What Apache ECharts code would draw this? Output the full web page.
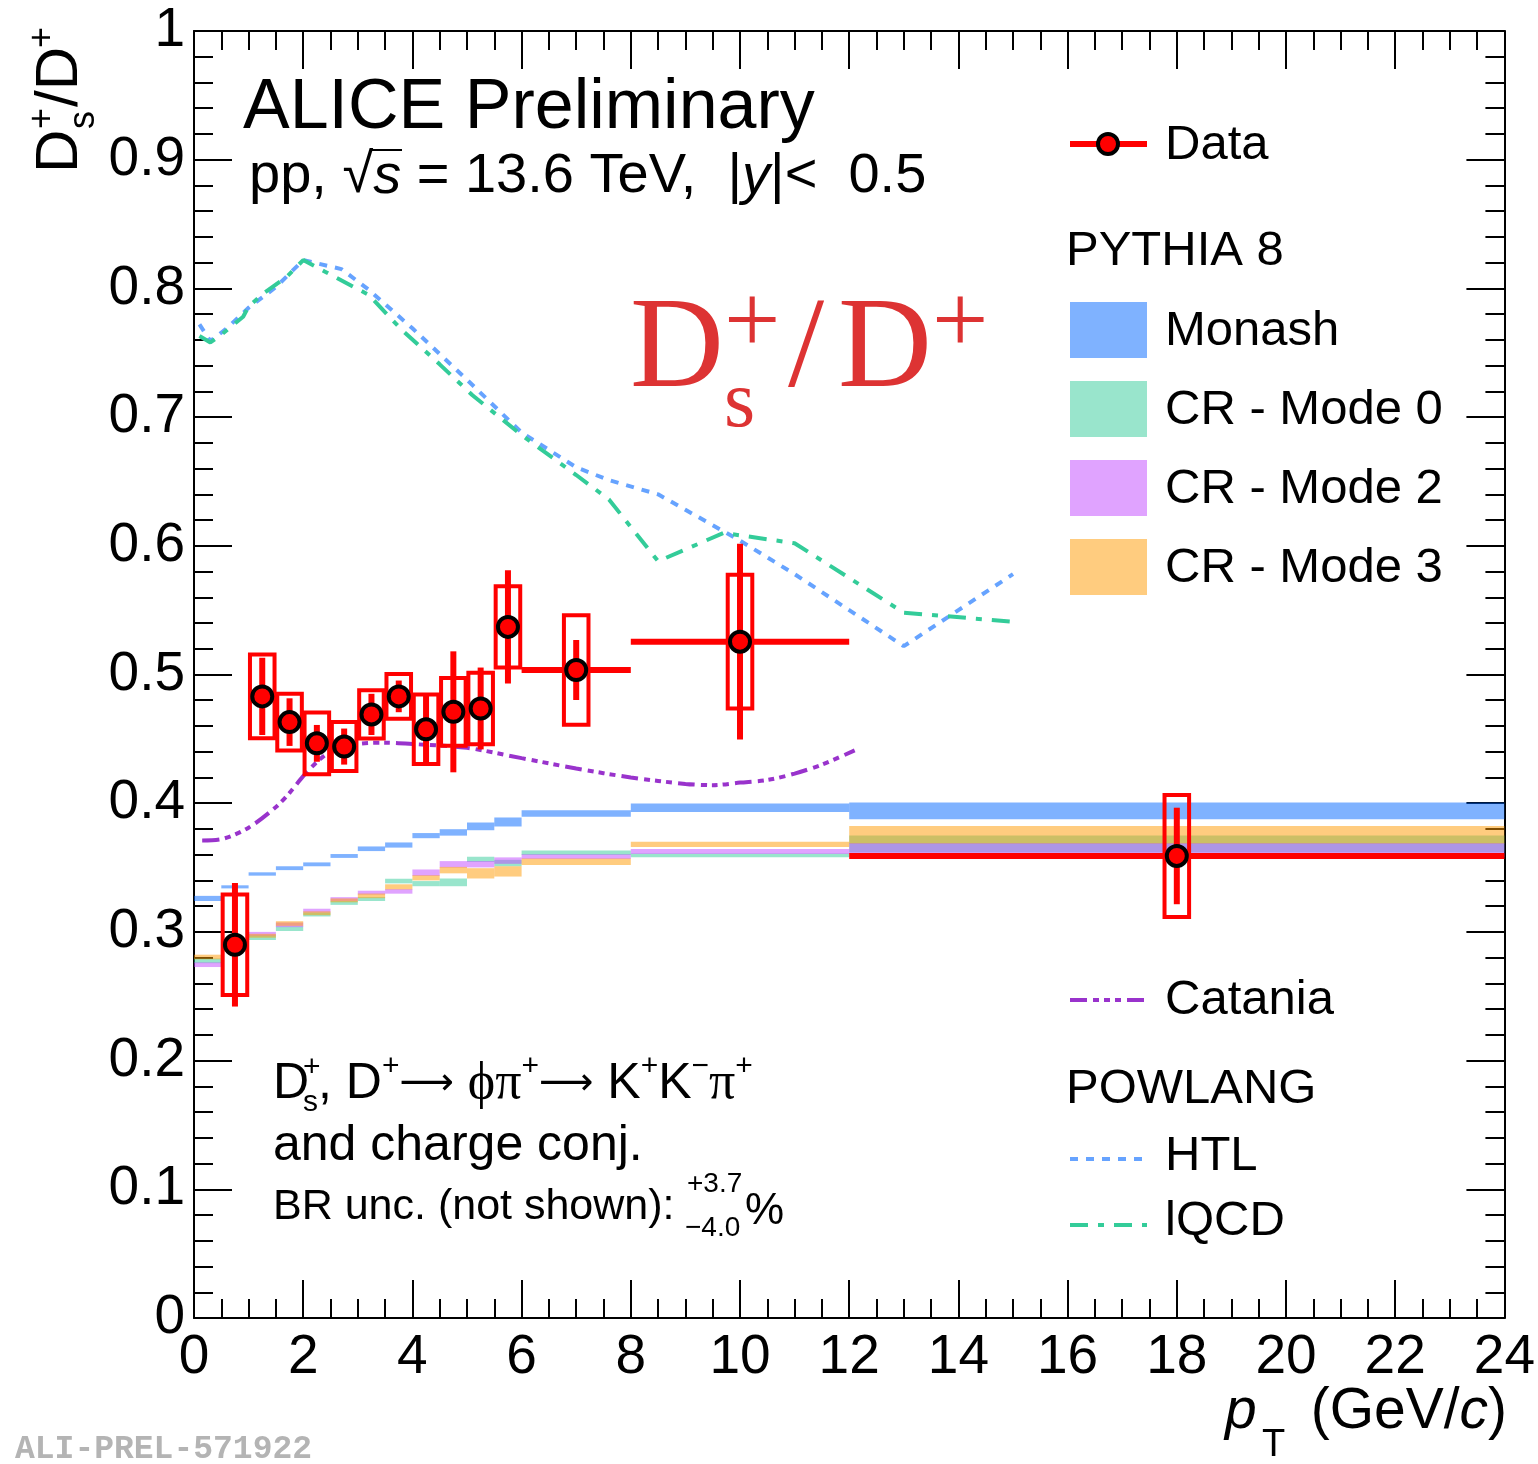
<!DOCTYPE html>
<html>
<head>
<meta charset="utf-8">
<script src="https://cdn.jsdelivr.net/npm/echarts@6/dist/echarts.min.js"></script>
<style>
  html, body { margin: 0; padding: 0; background: #fff; }
  #chart { width: 1538px; height: 1464px; }
</style>
</head>
<body>
<div id="chart"></div>
<script>
// ---- data ----
// measured points (pT centre, half bin width, value, stat and syst errors)
const dataPt     = [0.75, 1.25, 1.75, 2.25, 2.75, 3.25, 3.75, 4.25, 4.75, 5.25, 5.75, 7, 10, 18];
const dataPtHalf = [0.25, 0.25, 0.25, 0.25, 0.25, 0.25, 0.25, 0.25, 0.25, 0.25, 0.25, 1, 2, 6];
const dataVal    = [0.290, 0.483, 0.463, 0.4465, 0.444, 0.469, 0.483, 0.4574, 0.471, 0.4736, 0.537, 0.5035, 0.5255, 0.359];
const dataStat   = [0.048, 0.030, 0.0185, 0.0143, 0.014, 0.016, 0.0123, 0.028, 0.047, 0.0318, 0.044, 0.0233, 0.076, 0.0375];
const dataSys    = [0.039, 0.0325, 0.022, 0.024, 0.019, 0.0188, 0.0174, 0.027, 0.0263, 0.0277, 0.0316, 0.0426, 0.052, 0.0474];

// PYTHIA 8 histograms (bin edges, value, half band width)
const modelEdges = [0, 0.5, 1, 1.5, 2, 2.5, 3, 3.5, 4, 4.5, 5, 5.5, 6, 8, 12, 24];
const monashVal = [0.326, 0.335, 0.345, 0.3495, 0.3525, 0.359, 0.3646, 0.3675, 0.3748, 0.3773, 0.382, 0.3854, 0.392, 0.3965, 0.394];
const monashErr = [0.002, 0.0012, 0.0013, 0.0015, 0.0015, 0.0015, 0.0018, 0.002, 0.002, 0.0025, 0.003, 0.0035, 0.0025, 0.0033, 0.0065];
const mode0Val  = [0.2775, 0.2875, 0.2955, 0.3025, 0.3135, 0.3225, 0.3255, 0.3395, 0.3375, 0.3385, 0.3564, 0.3535, 0.3615, 0.3595, 0.3683];
const mode0Err  = [0.0018, 0.0018, 0.0018, 0.0018, 0.0015, 0.0015, 0.0015, 0.0018, 0.002, 0.003, 0.002, 0.0025, 0.0018, 0.0015, 0.0067];
const mode2Val  = [0.2745, 0.2885, 0.2985, 0.3055, 0.3165, 0.3255, 0.3305, 0.3315, 0.346, 0.3525, 0.3526, 0.3554, 0.3585, 0.3625, 0.3635];
const mode2Err  = [0.0018, 0.0018, 0.0015, 0.0018, 0.0015, 0.0015, 0.0015, 0.0018, 0.0025, 0.0025, 0.0025, 0.0025, 0.0018, 0.002, 0.0055];
const mode3Val  = [0.2805, 0.2865, 0.297, 0.3065, 0.3145, 0.3245, 0.328, 0.335, 0.342, 0.348, 0.3455, 0.347, 0.3545, 0.368, 0.3755];
const mode3Err  = [0.0018, 0.0018, 0.0015, 0.0018, 0.0015, 0.0015, 0.0018, 0.002, 0.002, 0.0025, 0.004, 0.004, 0.0025, 0.002, 0.0068];

// Catania curve
const cataniaPt  = [0.15, 0.5, 1.0, 1.5, 1.75, 2.0, 2.25, 2.5, 3.0, 3.5, 4.0, 5.0, 6.0, 7.0, 8.0, 9.0, 9.5, 10.0, 10.5, 11.0, 11.5, 12.1];
const cataniaVal = [0.371, 0.372, 0.381, 0.397, 0.408, 0.421, 0.432, 0.44, 0.446, 0.447, 0.446, 0.443, 0.435, 0.427, 0.42, 0.415, 0.414, 0.416, 0.418, 0.423, 0.43, 0.441];

// POWLANG curves
const htlPt  = [0.1, 0.3, 0.6, 1.0, 1.5, 2.0, 2.7, 3.2, 4.0, 5.0, 6.0, 7.0, 7.6, 8.5, 9.0, 10.0, 11.0, 12.0, 13.0, 14.0, 15.0];
const htlVal = [0.772, 0.759, 0.769, 0.785, 0.801, 0.822, 0.815, 0.799, 0.769, 0.729, 0.688, 0.661, 0.651, 0.640, 0.628, 0.604, 0.578, 0.55, 0.522, 0.55, 0.578];
const lqcdPt  = [0.1, 0.3, 0.5, 0.9, 1.0, 1.3, 1.7, 2.0, 2.4, 3.2, 3.8, 4.5, 5.1, 6.0, 7.0, 7.6, 8.5, 9.7, 11.0, 13.0, 15.0];
const lqcdVal = [0.763, 0.758, 0.764, 0.778, 0.786, 0.797, 0.809, 0.822, 0.813, 0.795, 0.768, 0.741, 0.717, 0.686, 0.655, 0.636, 0.588, 0.61, 0.602, 0.548, 0.541];

// ---- styles ----
const FONT = 'Liberation Sans, Arial, Helvetica, sans-serif';
const SERIF = 'Liberation Serif, DejaVu Serif, serif';
const RED = '#ff0000';
const C_MONASH = 'rgba(0,102,255,0.5)';
const C_MODE0 = 'rgba(51,204,153,0.5)';
const C_MODE2 = 'rgba(193,71,255,0.5)';
const C_MODE3 = 'rgba(255,153,0,0.5)';
const C_CATANIA = '#9933cc';
const C_HTL = '#66a3ff';
const C_LQCD = '#33cc99';
const SYS_HALF = 0.225; // half width of syst boxes, in pT units

const DASH_HTL = [8, 8];
const DASH_LQCD = [18, 10, 6, 10];
const DASH_CAT = [17, 6, 6, 5, 6, 5, 6, 6];

var myChart = echarts.init(document.getElementById('chart'));

function bandSeries(name, vals, errs, color) {
  return {
    type: 'custom',
    name: name,
    coordinateSystem: 'cartesian2d',
    silent: true,
    z: 2,
    data: vals.map((v, i) => [modelEdges[i], modelEdges[i + 1], v - errs[i], v + errs[i]]),
    encode: { x: [0, 1], y: [2, 3] },
    renderItem: function (params, api) {
      var p1 = api.coord([api.value(0), api.value(3)]);
      var p2 = api.coord([api.value(1), api.value(2)]);
      return {
        type: 'rect',
        shape: { x: p1[0], y: p1[1], width: p2[0] - p1[0], height: p2[1] - p1[1] },
        style: { fill: color }
      };
    }
  };
}

function lineSeries(name, xs, ys, color, dash, smooth) {
  return {
    type: 'line',
    name: name,
    data: xs.map((x, i) => [x, ys[i]]),
    showSymbol: false,
    smooth: smooth,
    silent: true,
    z: 5,
    lineStyle: { color: color, width: 4, type: dash }
  };
}

function txt(x, y, text, size, extra) {
  return {
    type: 'text', x: x, y: y, z: 50,
    style: Object.assign({
      text: text, fontSize: size, fontFamily: FONT, fill: '#000',
      align: 'left', verticalAlign: 'middle'
    }, extra || {})
  };
}

var axisCommon = {
  type: 'value',
  axisLine: { show: true, onZero: false, lineStyle: { color: '#000', width: 2 } },
  axisTick: { show: true, inside: true, length: 38, lineStyle: { color: '#000', width: 2 } },
  minorTick: { show: true, length: 19, lineStyle: { color: '#000', width: 2 } },
  splitLine: { show: false },
  minorSplitLine: { show: false }
};

var graphics = [];
// y axis title, rotated
graphics.push({
  type: 'group', x: 82, y: 173, rotation: Math.PI / 2, z: 50,
  children: [
    txt(0, -22, 'D', 60),
    txt(44, -39, '+', 36),
    txt(44, 2, 's', 36),
    txt(66, -22, '/D', 60),
    txt(125, -39, '+', 36)
  ]
});
// x axis title
graphics.push(txt(1225, 1412, 'p', 57, { fontStyle: 'italic' }));
graphics.push(txt(1262, 1446, 'T', 38));
graphics.push(txt(1507, 1412, '(GeV/{i|c})', 57, {
  align: 'right', rich: { i: { fontSize: 57, fontFamily: FONT, fontStyle: 'italic' } }
}));

// headline
graphics.push(txt(243, 109, 'ALICE Preliminary', 70));
graphics.push(txt(249, 177, 'pp, \u221A{i|s} = 13.6 TeV,  |{i|y}|<  0.5', 56, {
  rich: { i: { fontSize: 56, fontFamily: FONT, fontStyle: 'italic' } }
}));
graphics.push({ type: 'line', z: 50, shape: { x1: 372, y1: 150, x2: 402, y2: 150 }, style: { stroke: '#000', lineWidth: 2 } });

// big red label
graphics.push(txt(630, 352, 'D', 130, { fontFamily: SERIF, fill: '#dd3333' }));
graphics.push(txt(724, 327, '+', 100, { fontFamily: SERIF, fill: '#dd3333' }));
graphics.push(txt(724, 405, 's', 80, { fontFamily: SERIF, fill: '#dd3333' }));
graphics.push(txt(788, 352, '/', 130, { fontFamily: SERIF, fill: '#dd3333' }));
graphics.push(txt(838, 352, 'D', 130, { fontFamily: SERIF, fill: '#dd3333' }));
graphics.push(txt(932, 327, '+', 100, { fontFamily: SERIF, fill: '#dd3333' }));

// decay channel text
var richDecay = {
  sup: { fontSize: 30, fontFamily: FONT, lineHeight: 32, verticalAlign: 'top' },
  sym: { fontSize: 52, fontFamily: SERIF, lineHeight: 64 },
  arr: { fontSize: 38, fontFamily: 'DejaVu Sans', lineHeight: 64 }
};
graphics.push(txt(273, 1084, 'D', 50));
graphics.push(txt(303, 1068, '+', 30));
graphics.push(txt(303, 1103, 's', 30));
graphics.push(txt(318, 1084, ', D{sup|+}{arr|\u27F6} {sym|\u03D5\u03C0}{sup|+}{arr|\u27F6} K{sup|+}K{sup|\u2212}{sym|\u03C0}{sup|+}', 50, {
  lineHeight: 64, rich: richDecay
}));
graphics.push(txt(273, 1146, 'and charge conj.', 50));
graphics.push(txt(273, 1207, 'BR unc. (not shown):', 43));
graphics.push(txt(687, 1184, '+3.7', 28));
graphics.push(txt(685, 1228, '\u22124.0', 28));
graphics.push(txt(745, 1212, '%', 44));

// legend
graphics.push({ type: 'line', z: 50, shape: { x1: 1070, y1: 144, x2: 1147, y2: 144 }, style: { stroke: RED, lineWidth: 6 } });
graphics.push({ type: 'circle', z: 51, shape: { cx: 1108, cy: 144, r: 10 }, style: { fill: RED, stroke: '#000', lineWidth: 4 } });
graphics.push(txt(1165, 145, 'Data', 49));
graphics.push(txt(1066, 251, 'PYTHIA 8', 49));
[[C_MONASH, 'Monash', 302], [C_MODE0, 'CR - Mode 0', 381], [C_MODE2, 'CR - Mode 2', 460], [C_MODE3, 'CR - Mode 3', 539]].forEach(function (e) {
  graphics.push({ type: 'rect', z: 50, shape: { x: 1070, y: e[2], width: 77, height: 56 }, style: { fill: e[0] } });
  graphics.push(txt(1165, e[2] + 29, e[1], 49));
});
graphics.push({ type: 'line', z: 50, shape: { x1: 1070, y1: 1000, x2: 1147, y2: 1000 }, style: { stroke: C_CATANIA, lineWidth: 4, lineDash: DASH_CAT } });
graphics.push(txt(1165, 1000, 'Catania', 49));
graphics.push(txt(1066, 1089, 'POWLANG', 49));
graphics.push({ type: 'line', z: 50, shape: { x1: 1070, y1: 1159, x2: 1147, y2: 1159 }, style: { stroke: C_HTL, lineWidth: 4, lineDash: DASH_HTL } });
graphics.push(txt(1165, 1156, 'HTL', 49));
graphics.push({ type: 'line', z: 50, shape: { x1: 1070, y1: 1225, x2: 1147, y2: 1225 }, style: { stroke: C_LQCD, lineWidth: 4, lineDash: DASH_LQCD } });
graphics.push(txt(1165, 1221, 'lQCD', 49));

// watermark
graphics.push(txt(15, 1450, 'ALI-PREL-571922', 33, { fontFamily: 'Liberation Mono, DejaVu Sans Mono, monospace', fontWeight: 'bold', fill: '#b4b4b4' }));

var option = {
  backgroundColor: '#fff',
  animation: false,
  grid: { left: 194, top: 31, right: 31, bottom: 146, containLabel: false },
  xAxis: [
    Object.assign({}, axisCommon, {
      position: 'bottom', min: 0, max: 24, interval: 2,
      minorTick: Object.assign({}, axisCommon.minorTick, { splitNumber: 4 }),
      axisLabel: { show: true, fontSize: 55, fontFamily: FONT, color: '#000', margin: 12 }
    }),
    Object.assign({}, axisCommon, {
      position: 'top', min: 0, max: 24, interval: 2,
      minorTick: Object.assign({}, axisCommon.minorTick, { splitNumber: 4 }),
      axisLabel: { show: false }
    })
  ],
  yAxis: [
    Object.assign({}, axisCommon, {
      position: 'left', min: 0, max: 1, interval: 0.1,
      minorTick: Object.assign({}, axisCommon.minorTick, { splitNumber: 5 }),
      axisLabel: {
        show: true, fontSize: 55, fontFamily: FONT, color: '#000', margin: 9,
        formatter: function (v) { return v === 0 ? '0' : (Math.abs(v - 1) < 1e-9 ? '1' : v.toFixed(1)); }
      }
    }),
    Object.assign({}, axisCommon, {
      position: 'right', min: 0, max: 1, interval: 0.1,
      minorTick: Object.assign({}, axisCommon.minorTick, { splitNumber: 5 }),
      axisLabel: { show: false }
    })
  ],
  series: [
    bandSeries('Monash', monashVal, monashErr, C_MONASH),
    bandSeries('CR - Mode 0', mode0Val, mode0Err, C_MODE0),
    bandSeries('CR - Mode 2', mode2Val, mode2Err, C_MODE2),
    bandSeries('CR - Mode 3', mode3Val, mode3Err, C_MODE3),
    lineSeries('Catania', cataniaPt, cataniaVal, C_CATANIA, DASH_CAT, 0.3),
    lineSeries('HTL', htlPt, htlVal, C_HTL, DASH_HTL, false),
    lineSeries('lQCD', lqcdPt, lqcdVal, C_LQCD, DASH_LQCD, false),
    {
      type: 'custom',
      name: 'Data',
      coordinateSystem: 'cartesian2d',
      z: 10,
      data: dataPt.map((x, i) => [x, dataVal[i], dataPtHalf[i], dataStat[i], dataSys[i]]),
      encode: { x: 0, y: 1 },
      renderItem: function (params, api) {
        var x = api.value(0), y = api.value(1), hw = api.value(2), st = api.value(3), sy = api.value(4);
        var c = api.coord([x, y]);
        var l = api.coord([x - hw, y]);
        var r = api.coord([x + hw, y]);
        var sTop = api.coord([x, y + st]);
        var sBot = api.coord([x, y - st]);
        var bTL = api.coord([x - SYS_HALF, y + sy]);
        var bBR = api.coord([x + SYS_HALF, y - sy]);
        return {
          type: 'group',
          children: [
            { type: 'line', shape: { x1: l[0], y1: l[1], x2: r[0], y2: r[1] }, style: { stroke: RED, lineWidth: 6 } },
            { type: 'line', shape: { x1: sTop[0], y1: sTop[1], x2: sBot[0], y2: sBot[1] }, style: { stroke: RED, lineWidth: 6 } },
            { type: 'rect', shape: { x: bTL[0], y: bTL[1], width: bBR[0] - bTL[0], height: bBR[1] - bTL[1] }, style: { fill: 'none', stroke: RED, lineWidth: 4 } },
            { type: 'circle', shape: { cx: c[0], cy: c[1], r: 10 }, style: { fill: RED, stroke: '#000', lineWidth: 4 } }
          ]
        };
      }
    }
  ],
  graphic: graphics
};

myChart.setOption(option, true);
</script>
</body>
</html>
